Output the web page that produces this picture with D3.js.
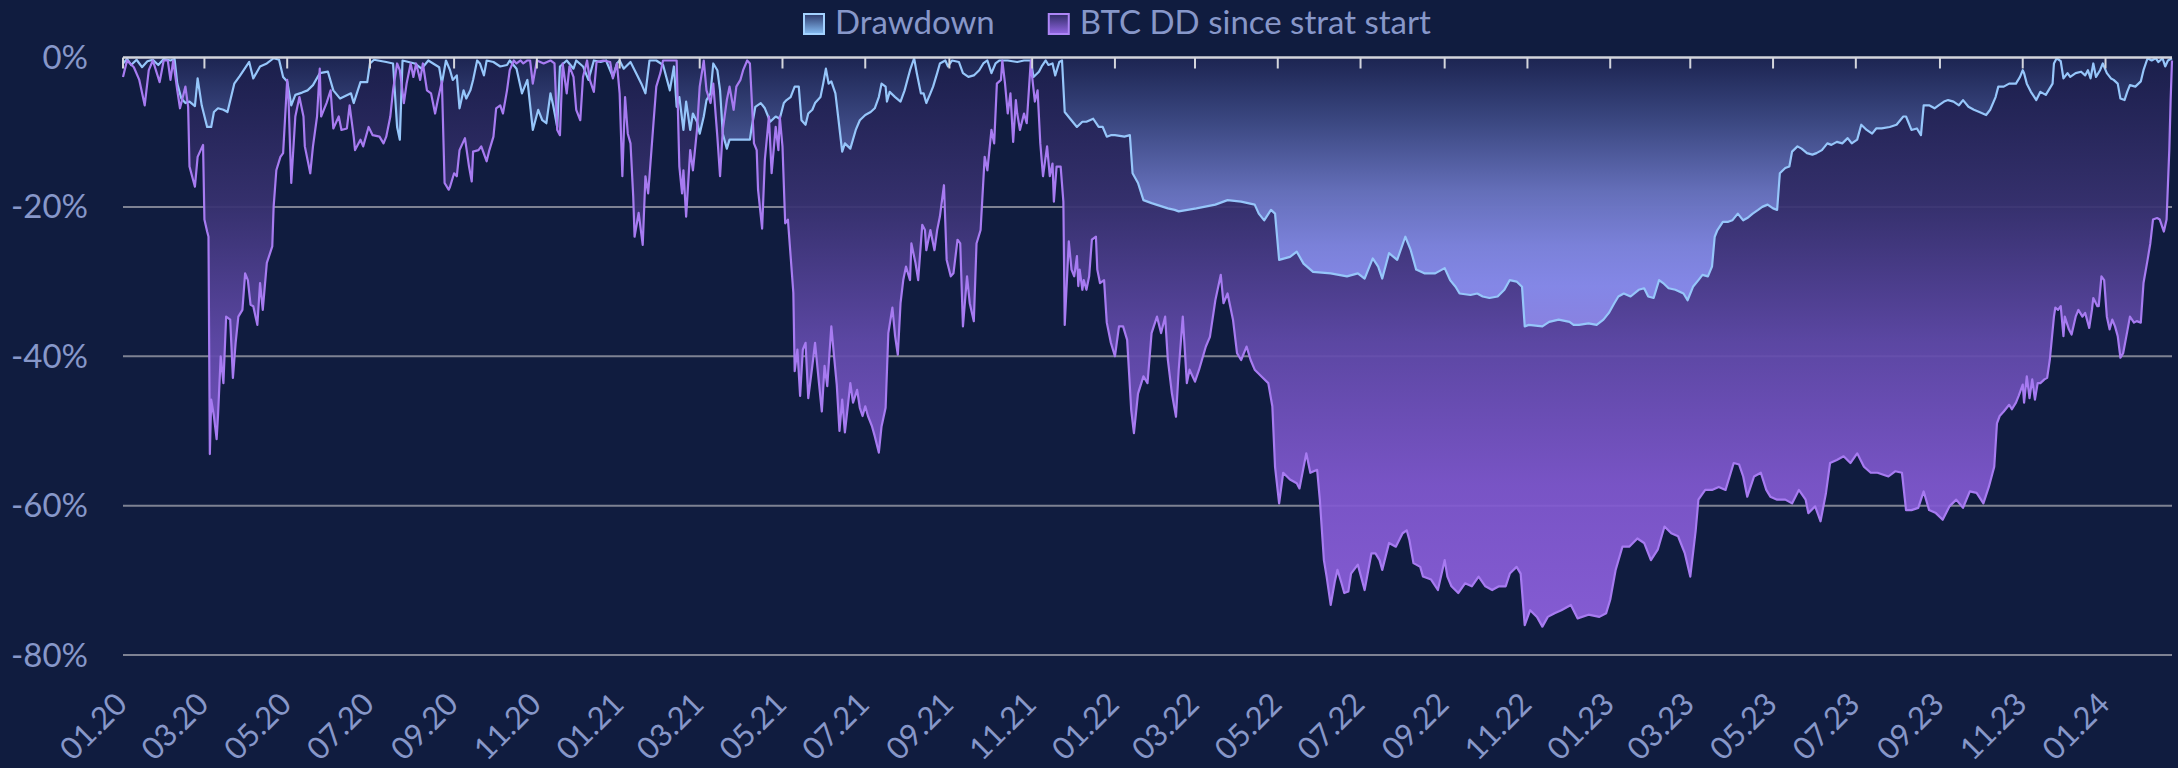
<!DOCTYPE html>
<html>
<head>
<meta charset="utf-8">
<script src="https://cdn.jsdelivr.net/npm/d3@7/dist/d3.min.js"></script>
<style>
  html, body { margin: 0; padding: 0; background: #101c3f; }
  svg { display: block; }
  text { font-family: Lato, "Liberation Sans", sans-serif; fill: #8797c9; }
</style>
</head>
<body>
<svg id="chart" width="2178" height="768"></svg>
<script>
// ======== Data ========
// points are [day since 2020-01-01, drawdown in %]
const START = Date.UTC(2020, 0, 1);
const LAST_DAY = 1510;
const yTicks = [0, -20, -40, -60, -80];
const seriesNames = ["Drawdown", "BTC DD since strat start"];

const dd2020 = [[0,-0.8],[3,-0.2],[6,-1.0],[10,-0.3],[14,-1.3],[18,-0.5],[22,-0.3],[26,-1.0],[30,-0.2],[35,-0.4],[38,-0.2],[40,-3.5],[43,-5.5],[46,-6.1],[49,-5.9],[53,-6.5],[55,-2.8],[58,-6.4],[62,-9.3],[65,-9.3],[67,-7.3],[70,-6.8],[74,-7.0],[77,-7.3],[82,-3.5],[86,-2.5],[93,-0.6],[96,-2.8],[101,-1.2],[106,-0.8],[111,-0.1],[115,-0.3],[118,-2.6],[121,-3.2],[124,-6.4],[127,-5.0],[132,-4.7],[136,-4.4],[140,-3.7],[145,-2.1],[151,-1.9],[155,-4.4],[160,-5.5],[168,-4.8],[170,-6.1],[175,-3.3],[180,-3.3],[182,-0.8],[185,-0.3],[194,-0.6],[199,-0.8],[202,-9.3],[204,-11.0],[206,-0.4],[215,-0.8],[220,-1.5],[225,-0.4],[233,-1.3],[235,-3.5],[238,-0.4],[241,-1.7],[243,-3.0],[246,-2.4],[248,-6.8],[251,-4.4],[253,-5.5],[256,-4.4],[258,-3.0],[261,-0.4],[263,-0.8],[266,-2.4],[268,-0.4],[273,-0.6],[278,-1.2],[283,-1.0],[285,-0.4],[290,-1.5],[294,-4.8],[298,-3.0],[302,-9.7],[306,-7.0],[309,-8.4],[312,-8.8],[315,-4.8],[317,-6.4],[320,-9.3],[322,-1.2],[327,-0.4],[332,-1.5],[334,-0.4],[339,-1.2],[343,-3.0],[347,-0.4],[352,-0.6],[356,-0.4],[361,-2.6],[364,-0.8]];
const dd2021 = [[366,-0.4],[369,-1.5],[374,-0.6],[379,-2.4],[382,-3.5],[385,-4.8],[388,-0.4],[393,-0.4],[398,-1.0],[403,-4.4],[406,-1.2],[408,-6.6],[410,-5.3],[413,-9.7],[415,-5.9],[418,-9.7],[420,-7.5],[423,-8.6],[425,-10.2],[428,-7.9],[430,-5.7],[433,-4.8],[435,-0.8],[438,-1.7],[440,-4.4],[442,-10.2],[445,-12.2],[447,-11.0],[452,-11.0],[462,-11.0],[463,-9.7],[466,-6.6],[470,-6.1],[473,-6.8],[477,-8.6],[481,-7.9],[484,-8.2],[487,-6.1],[489,-5.7],[492,-5.3],[495,-3.9],[498,-3.9],[500,-8.4],[503,-9.0],[505,-7.5],[508,-7.0],[510,-6.1],[514,-5.3],[516,-3.5],[518,-1.5],[520,-3.5],[522,-3.2],[525,-4.8],[527,-7.9],[530,-12.6],[532,-11.5],[536,-12.2],[540,-9.7],[543,-8.4],[547,-7.7],[551,-7.3],[554,-6.8],[557,-5.3],[559,-3.5],[562,-3.9],[563,-5.9],[565,-4.6],[569,-5.3],[573,-5.9],[576,-4.4],[580,-1.7],[583,-0.1],[585,-2.1],[588,-4.8],[590,-4.8],[592,-6.1],[595,-4.8],[597,-3.9],[600,-2.1],[602,-0.8],[606,-0.4],[608,-1.2],[611,-0.4],[616,-0.6],[619,-2.1],[623,-2.6],[627,-2.4],[631,-1.7],[634,-0.8],[637,-0.4],[640,-2.1],[643,-0.8],[646,-0.4],[652,-0.4],[659,-0.6],[664,-0.4],[669,-0.4],[671,-2.6],[675,-1.9],[677,-1.2],[680,-0.4],[682,-1.0],[685,-0.8],[687,-2.4],[690,-0.6],[692,-0.4],[694,-7.3],[698,-8.2],[703,-9.3],[707,-8.6],[710,-8.6],[715,-8.2],[719,-9.3],[722,-9.3],[725,-10.6],[728,-10.4]];
const dd2022 = [[731,-10.4],[738,-10.6],[742,-10.4],[744,-15.5],[748,-16.8],[752,-19.1],[758,-19.5],[770,-20.2],[775,-20.4],[778,-20.6],[791,-20.2],[805,-19.7],[814,-19.1],[824,-19.3],[834,-19.7],[837,-20.9],[841,-21.8],[846,-20.4],[849,-20.9],[852,-27.1],[860,-26.7],[865,-26.0],[870,-27.6],[877,-28.7],[890,-28.9],[902,-29.3],[910,-28.9],[915,-29.6],[921,-26.9],[925,-28.0],[928,-29.6],[933,-26.2],[939,-27.1],[945,-24.0],[949,-25.8],[953,-28.4],[959,-28.9],[967,-28.9],[974,-28.2],[978,-29.8],[982,-30.7],[985,-31.6],[993,-31.8],[998,-31.6],[1002,-32.0],[1007,-32.2],[1013,-32.0],[1018,-31.1],[1022,-29.8],[1027,-30.0],[1031,-30.7],[1033,-36.0],[1036,-35.8],[1046,-36.0],[1051,-35.4],[1058,-35.1],[1066,-35.4],[1069,-35.8],[1073,-35.8],[1080,-35.6],[1086,-35.8],[1091,-35.1],[1095,-34.2]];
const dd2023 = [[1099,-32.9],[1102,-32.0],[1106,-31.6],[1111,-32.0],[1117,-31.1],[1121,-30.9],[1124,-32.0],[1128,-32.2],[1132,-29.8],[1135,-30.2],[1139,-30.9],[1144,-31.1],[1150,-31.6],[1153,-32.5],[1157,-30.7],[1161,-29.8],[1164,-29.1],[1168,-29.3],[1171,-28.0],[1173,-24.0],[1175,-23.1],[1179,-22.0],[1183,-22.0],[1186,-21.8],[1190,-20.9],[1194,-21.8],[1197,-21.5],[1201,-20.9],[1205,-20.4],[1208,-20.0],[1212,-19.7],[1216,-20.2],[1219,-20.4],[1221,-15.5],[1225,-14.8],[1228,-14.6],[1230,-12.6],[1234,-11.9],[1237,-12.2],[1241,-12.8],[1245,-13.0],[1248,-12.8],[1252,-12.4],[1256,-11.5],[1259,-11.7],[1263,-11.3],[1267,-11.5],[1271,-10.8],[1274,-11.5],[1278,-11.0],[1281,-9.0],[1285,-9.7],[1289,-10.2],[1292,-9.5],[1296,-9.5],[1302,-9.3],[1307,-9.0],[1312,-7.9],[1314,-7.9],[1318,-9.7],[1322,-9.5],[1325,-10.4],[1327,-6.4],[1331,-6.4],[1335,-6.8],[1338,-6.4],[1342,-5.9],[1345,-5.7],[1349,-5.9],[1353,-6.4],[1356,-5.7],[1360,-6.6],[1364,-7.0],[1368,-7.3],[1373,-7.7],[1376,-7.0],[1380,-5.3],[1382,-3.9],[1386,-3.9],[1390,-3.5],[1395,-3.5],[1398,-2.6],[1400,-1.7],[1401,-2.1],[1403,-3.5],[1406,-4.6],[1410,-5.7],[1413,-4.6],[1417,-5.0],[1419,-4.4],[1422,-3.5],[1423,-0.8],[1425,-0.1],[1428,-0.5],[1430,-2.8],[1433,-2.1],[1435,-2.6],[1439,-2.1],[1443,-1.9],[1446,-2.4],[1448,-1.7],[1450,-2.8],[1452,-0.8],[1454,-2.6],[1457,-1.7],[1459,-0.8]];
const dd2024 = [[1462,-2.1],[1465,-2.8],[1467,-3.0],[1470,-3.5],[1472,-5.5],[1475,-5.7],[1477,-4.6],[1479,-3.7],[1483,-3.9],[1487,-3.2],[1489,-1.7],[1492,-0.1],[1495,-0.4],[1498,-0.1],[1500,-0.6],[1503,-0.1],[1505,-1.2],[1507,-0.4],[1510,-0.1]];

const btc2020 = [[0,-2.6],[3,-0.4],[8,-1.3],[12,-3.0],[16,-6.4],[19,-1.7],[22,-0.4],[27,-3.3],[30,-0.4],[33,-0.4],[35,-3.0],[37,-0.4],[40,-4.4],[42,-6.8],[46,-3.9],[48,-6.6],[49,-14.6],[53,-17.3],[55,-13.3],[59,-11.7],[60,-21.7],[62,-23.3],[63,-24.0],[64,-53.1],[65,-45.8],[67,-48.0],[69,-51.1],[70,-48.0],[72,-40.0],[74,-43.6],[76,-34.7],[79,-35.1],[81,-42.9],[83,-38.2],[85,-34.7],[88,-33.8],[90,-28.9],[92,-29.8],[94,-33.1],[96,-33.3],[99,-35.8],[101,-30.2],[103,-33.8],[106,-27.5],[110,-25.3],[111,-20.0],[113,-15.1],[116,-13.3],[118,-12.8],[121,-3.0],[122,-5.7],[124,-16.8],[127,-7.9],[130,-5.3],[133,-7.9],[134,-11.9],[138,-15.5],[140,-11.9],[143,-7.9],[145,-1.5],[146,-7.9],[150,-6.1],[153,-4.4],[155,-9.5],[159,-7.9],[161,-9.7],[165,-9.5],[167,-6.4],[170,-10.6],[171,-12.4],[175,-11.0],[177,-11.9],[181,-9.3],[184,-10.4],[189,-10.6],[192,-11.5],[194,-10.6],[197,-7.9],[199,-4.4],[202,-0.8],[204,-1.7],[207,-6.1],[209,-3.5],[212,-0.8],[214,-2.6],[216,-0.8],[219,-3.0],[221,-0.8],[224,-4.4],[227,-4.8],[230,-7.5],[232,-5.7],[235,-3.2],[237,-16.8],[240,-17.7],[241,-17.3],[244,-15.5],[246,-15.9],[248,-12.4],[252,-10.8],[255,-14.6],[257,-16.6],[258,-12.6],[262,-12.4],[264,-11.9],[268,-13.9],[270,-12.4],[273,-10.6],[275,-6.8],[278,-6.4],[280,-7.5],[283,-4.4],[285,-1.7],[288,-0.4],[290,-0.8],[293,-0.4],[295,-0.8],[298,-0.4],[300,-0.4],[302,-3.5],[305,-0.4],[310,-0.8],[315,-0.4],[318,-0.8],[320,-9.7],[322,-10.4],[324,-0.8],[327,-4.8],[329,-1.2],[332,-2.6],[334,-7.0],[337,-8.4],[339,-2.6],[342,-0.4],[344,-3.0],[347,-4.6],[349,-0.6],[354,-0.4],[359,-0.6],[361,-2.8],[364,-0.8]];
const btc2021 = [[366,-4.8],[368,-15.9],[370,-5.3],[372,-10.2],[374,-11.5],[376,-18.6],[377,-24.0],[380,-20.8],[383,-25.1],[385,-15.9],[387,-18.2],[388,-15.9],[391,-8.6],[393,-3.9],[396,-2.1],[398,-0.4],[403,-0.4],[408,-0.4],[410,-14.6],[412,-18.2],[413,-15.1],[415,-21.3],[418,-12.4],[420,-15.1],[423,-9.7],[425,-3.9],[428,-0.4],[430,-4.4],[433,-6.1],[435,-3.5],[438,-10.6],[440,-15.9],[442,-9.7],[445,-5.7],[447,-3.9],[450,-7.0],[452,-3.9],[455,-3.0],[457,-1.7],[460,-0.4],[462,-0.8],[465,-11.5],[467,-12.4],[468,-17.7],[471,-22.9],[473,-13.7],[476,-7.9],[478,-15.5],[481,-9.3],[483,-12.4],[484,-7.9],[486,-11.9],[488,-22.2],[490,-21.7],[492,-26.6],[494,-31.5],[495,-42.0],[497,-39.1],[499,-45.3],[501,-39.1],[503,-38.2],[505,-45.6],[508,-41.3],[510,-38.2],[513,-43.8],[515,-47.4],[517,-41.3],[519,-44.0],[522,-36.0],[524,-40.0],[526,-43.8],[528,-50.0],[530,-45.8],[532,-50.2],[535,-45.3],[536,-43.6],[538,-46.2],[541,-44.5],[543,-46.9],[545,-48.0],[547,-46.7],[549,-48.0],[552,-49.4],[554,-50.7],[557,-52.9],[559,-49.4],[562,-46.9],[564,-36.9],[567,-33.5],[569,-37.3],[571,-39.8],[573,-32.9],[575,-29.8],[577,-28.0],[580,-29.8],[581,-24.9],[584,-27.5],[586,-29.8],[589,-22.4],[591,-23.1],[592,-25.8],[595,-23.1],[598,-25.8],[600,-23.1],[602,-21.3],[605,-17.1],[607,-27.1],[610,-29.3],[612,-28.9],[615,-24.4],[617,-24.9],[619,-36.0],[622,-29.3],[624,-32.9],[627,-35.3],[629,-24.9],[632,-23.1],[635,-13.3],[637,-15.1],[640,-9.7],[642,-11.5],[644,-3.5],[647,-3.0],[648,-0.4],[650,-3.5],[652,-7.5],[654,-4.8],[656,-11.3],[658,-5.7],[659,-7.5],[661,-9.7],[664,-7.5],[666,-8.8],[669,-0.4],[670,-2.6],[672,-5.9],[674,-4.4],[676,-11.5],[678,-15.9],[681,-11.9],[683,-15.9],[685,-14.2],[686,-19.3],[688,-14.6],[691,-14.6],[693,-19.3],[694,-35.8],[696,-28.4],[697,-24.6],[699,-28.4],[701,-29.3],[703,-26.6],[704,-30.6],[705,-28.4],[707,-31.1],[708,-29.8],[710,-31.1],[712,-29.3],[714,-24.4],[717,-24.0],[718,-28.4],[720,-30.2],[723,-29.8],[725,-35.5],[728,-38.2]];
const btc2022 = [[731,-40.0],[734,-36.0],[737,-36.0],[740,-37.8],[743,-47.2],[745,-50.3],[748,-45.0],[752,-42.7],[755,-43.6],[758,-36.9],[762,-34.7],[765,-36.9],[768,-34.7],[770,-40.5],[773,-45.0],[776,-48.1],[778,-41.8],[781,-34.7],[784,-43.6],[786,-41.8],[790,-43.4],[793,-41.8],[798,-38.7],[801,-37.4],[805,-32.5],[809,-29.1],[811,-32.9],[814,-31.6],[818,-35.1],[821,-39.6],[824,-40.5],[828,-38.7],[831,-40.5],[834,-41.8],[839,-42.7],[844,-43.6],[847,-46.7],[849,-54.8],[852,-59.7],[855,-55.6],[860,-56.5],[865,-57.0],[867,-57.7],[872,-53.0],[875,-55.6],[880,-55.2],[882,-59.2],[885,-67.3],[887,-69.5],[890,-73.3],[893,-70.2],[895,-68.6],[898,-70.4],[900,-71.7],[903,-71.5],[905,-69.1],[910,-67.9],[915,-71.3],[920,-66.4],[923,-66.4],[926,-67.3],[928,-68.6],[933,-65.0],[938,-65.5],[943,-63.7],[946,-63.3],[948,-64.6],[951,-67.7],[956,-68.2],[958,-69.5],[964,-69.9],[969,-71.3],[974,-67.3],[976,-69.5],[979,-70.8],[984,-71.7],[989,-70.4],[994,-70.8],[999,-69.5],[1004,-70.8],[1009,-71.3],[1014,-70.8],[1019,-70.8],[1022,-69.1],[1027,-68.2],[1030,-69.1],[1033,-76.0],[1037,-74.0],[1042,-74.9],[1046,-76.2],[1050,-74.9],[1055,-74.4],[1060,-74.0],[1067,-73.3],[1072,-75.1],[1080,-74.6],[1088,-74.9],[1093,-74.4]];
const btc2023 = [[1096,-72.6],[1100,-68.6],[1105,-65.5],[1110,-65.5],[1116,-64.4],[1121,-65.0],[1126,-67.3],[1131,-65.9],[1136,-62.8],[1141,-63.7],[1146,-64.1],[1151,-66.4],[1155,-69.5],[1159,-63.3],[1161,-59.2],[1166,-57.9],[1171,-57.9],[1176,-57.5],[1181,-57.9],[1187,-54.3],[1191,-54.5],[1194,-56.1],[1197,-58.8],[1202,-56.1],[1207,-55.6],[1211,-57.9],[1214,-58.8],[1219,-59.2],[1225,-59.2],[1230,-59.7],[1235,-57.9],[1240,-59.2],[1242,-61.0],[1247,-60.1],[1251,-62.1],[1255,-58.3],[1258,-54.3],[1263,-53.9],[1268,-53.4],[1273,-54.3],[1278,-53.0],[1283,-54.8],[1288,-55.6],[1293,-55.6],[1301,-56.1],[1306,-55.4],[1311,-55.6],[1314,-60.6],[1318,-60.6],[1323,-60.3],[1327,-58.1],[1331,-60.6],[1336,-61.0],[1341,-61.9],[1346,-60.1],[1351,-59.2],[1356,-60.3],[1361,-58.1],[1366,-58.3],[1371,-59.7],[1375,-57.5],[1379,-54.8],[1381,-49.0],[1383,-48.0],[1386,-47.4],[1390,-46.5],[1392,-47.1],[1395,-46.2],[1397,-45.3],[1400,-43.8],[1401,-46.2],[1403,-42.7],[1405,-45.6],[1407,-43.1],[1409,-45.8],[1411,-43.6],[1413,-43.6],[1416,-43.1],[1418,-42.9],[1420,-40.4],[1423,-34.7],[1424,-33.5],[1426,-33.8],[1428,-33.3],[1430,-37.3],[1431,-34.7],[1434,-36.4],[1436,-37.1],[1439,-34.7],[1441,-33.8],[1444,-34.7],[1446,-34.2],[1449,-36.2],[1451,-33.8],[1452,-32.2],[1455,-33.3],[1456,-33.3],[1458,-29.3],[1460,-29.8]];
const btc2024 = [[1462,-34.7],[1464,-36.4],[1466,-35.1],[1468,-36.0],[1470,-37.3],[1472,-40.2],[1474,-39.6],[1477,-36.7],[1479,-34.7],[1482,-35.5],[1484,-35.3],[1487,-35.5],[1489,-30.2],[1492,-27.1],[1494,-24.9],[1496,-21.7],[1499,-21.5],[1501,-21.7],[1504,-23.3],[1506,-21.7],[1508,-12.4],[1509,-5.7],[1510,-0.4]];

const ddSeries = [].concat(dd2020, dd2021, dd2022, dd2023, dd2024);
const btcSeries = [].concat(btc2020, btc2021, btc2022, btc2023, btc2024);

// ======== Layout ========
const width = 2178, height = 768;
const plot = { left: 123, right: 2172, top: 57.5, bottom: 655 };

const toDate = d => d3.utcDay.offset(new Date(START), d);

const x = d3.scaleUtc()
    .domain([toDate(0), toDate(LAST_DAY)])
    .range([plot.left, plot.right]);
const y = d3.scaleLinear()
    .domain([-80, 0])
    .range([plot.bottom, plot.top]);

const svg = d3.select('#chart');
svg.append('rect').attr('width', width).attr('height', height).attr('fill', '#101c3f');

// ======== Gradients ========
const defs = svg.append('defs');
function gradient(id, y1, y2, stops) {
    const g = defs.append('linearGradient')
        .attr('id', id)
        .attr('gradientUnits', y1 === null ? 'objectBoundingBox' : 'userSpaceOnUse')
        .attr('x1', 0).attr('x2', 0);
    if (y1 === null) g.attr('y1', 0).attr('y2', 1);
    else g.attr('y1', y1).attr('y2', y2);
    stops.forEach(s => g.append('stop').attr('offset', s[0]).attr('stop-color', s[1]));
}
gradient('btcFill', y(0), y(d3.min(btcSeries, d => d[1])),
    [[0, '#1b1f4c'], [0.25, '#37316f'], [0.5, '#614aaa'], [0.75, '#8058cf'], [1, '#8d60de']]);
gradient('ddFill', y(0), y(d3.min(ddSeries, d => d[1])),
    [[0, '#1c2552'], [0.25, '#3f4d88'], [0.5, '#6a76c2'], [0.7, '#8189e3'], [0.85, '#8a8ff0'], [1, '#8e88e8']]);
gradient('ddSwatch', null, null, [[0, '#2d3a6c'], [1, '#86bdf4']]);
gradient('btcSwatch', null, null, [[0, '#2f2c66'], [1, '#9366e4']]);

// ======== Grid and y labels ========
svg.append('g').selectAll('line')
    .data(yTicks.filter(t => t !== 0))
    .enter().append('line')
    .attr('x1', plot.left).attr('x2', plot.right)
    .attr('y1', d => y(d)).attr('y2', d => y(d))
    .attr('stroke', '#7e8293').attr('stroke-width', 2);

svg.append('g').selectAll('text')
    .data(yTicks)
    .enter().append('text')
    .attr('x', 88).attr('y', d => y(d))
    .attr('dy', '0.35em')
    .attr('text-anchor', 'end')
    .style('font-size', '33px')
    .text(d => d + '%');

// ======== Areas and lines ========
const area = d3.area()
    .x(d => x(toDate(d[0])))
    .y0(y(0))
    .y1(d => y(d[1]));
const line = d3.line()
    .x(d => x(toDate(d[0])))
    .y(d => y(d[1]));

svg.append('path').datum(btcSeries)
    .attr('d', area).attr('fill', 'url(#btcFill)').attr('fill-opacity', 0.93);
svg.append('path').datum(ddSeries)
    .attr('d', area).attr('fill', 'url(#ddFill)').attr('fill-opacity', 0.9);
svg.append('path').datum(ddSeries)
    .attr('d', line).attr('fill', 'none')
    .attr('stroke', '#96c6fa').attr('stroke-width', 2.2).attr('stroke-linejoin', 'round');
svg.append('path').datum(btcSeries)
    .attr('d', line).attr('fill', 'none')
    .attr('stroke', '#a77bf1').attr('stroke-width', 2.2).attr('stroke-linejoin', 'round');

// ======== X axis (sits on the 0% line, labels below the plot) ========
const xTicks = x.ticks(d3.utcMonth.every(2));
const fmt = d3.utcFormat('%m.%y');

svg.append('line')
    .attr('x1', plot.left).attr('x2', plot.right)
    .attr('y1', y(0)).attr('y2', y(0))
    .attr('stroke', '#d3d5dc').attr('stroke-width', 2.5);
svg.append('g').selectAll('line')
    .data(xTicks)
    .enter().append('line')
    .attr('x1', d => x(d)).attr('x2', d => x(d))
    .attr('y1', y(0)).attr('y2', y(0) + 11)
    .attr('stroke', '#d3d5dc').attr('stroke-width', 2);

svg.append('g').selectAll('text')
    .data(xTicks)
    .enter().append('text')
    .attr('transform', d => 'translate(' + (x(d) + 6) + ',706) rotate(-45)')
    .attr('text-anchor', 'end')
    .style('font-size', '31px')
    .text(d => fmt(d));

// ======== Legend ========
const legend = svg.append('g');
const swatches = [{ fill: 'url(#ddSwatch)', stroke: '#a3d2ff' }, { fill: 'url(#btcSwatch)', stroke: '#ad86f6' }];
let lx = 803;
seriesNames.forEach((name, i) => {
    legend.append('rect')
        .attr('x', lx + 1).attr('y', 14)
        .attr('width', 20).attr('height', 20)
        .attr('fill', swatches[i].fill)
        .attr('stroke', swatches[i].stroke).attr('stroke-width', 2);
    const t = legend.append('text')
        .attr('x', lx + 32).attr('y', 34)
        .style('font-size', '33px')
        .text(name);
    lx += 32 + t.node().getComputedTextLength() + 53;
});
</script>
</body>
</html>
